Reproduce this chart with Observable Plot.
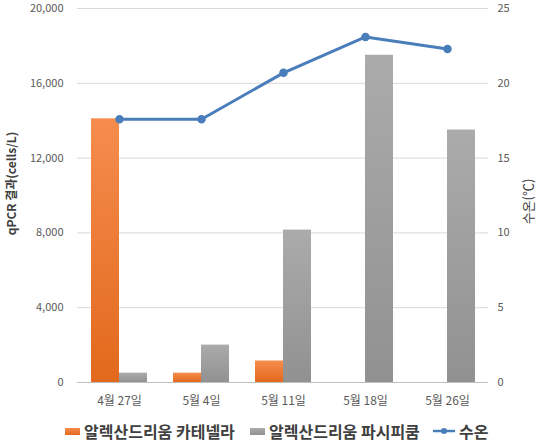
<!DOCTYPE html>
<html>
<head>
<meta charset="utf-8">
<script src="https://cdn.jsdelivr.net/npm/d3@7"></script>
<script src="https://cdn.jsdelivr.net/npm/@observablehq/plot@0.6"></script>
<style>
  html, body { margin: 0; padding: 0; background: #fff; }
  #wrap { position: relative; width: 551px; height: 445px; overflow: hidden; font-family: "Noto Sans CJK KR", "Noto Sans", sans-serif; }
  #legend { position: absolute; left: 0; top: 419px; width: 551px; height: 24px; }
  .item { position: absolute; top: 0; height: 24px; display: flex; align-items: center; font-weight: bold; font-size: 16px; color: #404040; white-space: nowrap; }
  .sw { display: inline-block; width: 15px; height: 7px; margin-right: 4px; }
</style>
</head>
<body>
<div id="wrap">
  <div id="chart"></div>
  <div id="legend"></div>
</div>
<script>
const dates = ["4월 27일", "5월 4일", "5월 11일", "5월 18일", "5월 26일"];
const catenella = [14100, 500, 1150, 0, 0];
const pacificum = [500, 2000, 8150, 17500, 13500];
const temperature = [17.6, 17.6, 20.7, 23.1, 22.3];
const leftTicks = [0, 4000, 8000, 12000, 16000, 20000];
const rightTicks = [0, 5, 10, 15, 20, 25];
const seriesNames = ["알렉산드리움 카테넬라", "알렉산드리움 파시피쿰", "수온"];
const leftTitle = "qPCR 결과(cells/L)";
const rightTitle = "수온(℃)";

const ratio = 20000 / 25;
const orangeRows = dates.map((d, i) => ({date: d, value: catenella[i]}));
const grayRows = dates.map((d, i) => ({date: d, value: pacificum[i]}));
const tempRows = dates.map((d, i) => ({date: d, temp: temperature[i]}));

const defs = () => {
  const g = d3.create("svg:defs");
  const o = g.append("linearGradient").attr("id", "gOrange").attr("x1", 0).attr("y1", 0).attr("x2", 0).attr("y2", 1);
  o.append("stop").attr("offset", "0%").attr("stop-color", "#F58C4E");
  o.append("stop").attr("offset", "100%").attr("stop-color", "#E2691C");
  const gr = g.append("linearGradient").attr("id", "gGray").attr("x1", 0).attr("y1", 0).attr("x2", 0).attr("y2", 1);
  gr.append("stop").attr("offset", "0%").attr("stop-color", "#ABABAB");
  gr.append("stop").attr("offset", "100%").attr("stop-color", "#919191");
  return g.node();
};

const font = "Noto Sans CJK KR, Noto Sans, sans-serif";

const chart = Plot.plot({
  width: 551,
  height: 418,
  marginLeft: 77,
  marginRight: 63,
  marginTop: 8,
  marginBottom: 36,
  style: {fontFamily: font, fontSize: "11px", color: "#595959", background: "#fff"},
  x: {domain: dates, padding: 0, label: null},
  y: {domain: [0, 20000], label: null},
  marks: [
    defs,
    Plot.ruleY(leftTicks.slice(1), {stroke: "#D9D9D9", strokeWidth: 1}),
    Plot.barY(orangeRows, {x: "date", y: "value", fill: "url(#gOrange)", insetLeft: 13, insetRight: 41}),
    Plot.barY(grayRows, {x: "date", y: "value", fill: "url(#gGray)", insetLeft: 41, insetRight: 13}),
    Plot.ruleY([0], {stroke: "#BFBFBF", strokeWidth: 1}),
    Plot.line(tempRows, {x: "date", y: d => d.temp * ratio, stroke: "#4A7EBB", strokeWidth: 3}),
    Plot.dot(tempRows, {x: "date", y: d => d.temp * ratio, r: 3.5, fill: "#4A7EBB", stroke: "#4A7EBB"}),
    Plot.axisY({ticks: leftTicks, tickFormat: d3.format(","), tickSize: 0, tickPadding: 14, label: null, fill: "#595959"}),
    Plot.axisY({anchor: "right", ticks: rightTicks.map(t => t * ratio), tickFormat: d => String(d / ratio), tickSize: 0, tickPadding: 9, label: null, fill: "#595959"}),
    Plot.axisX({tickSize: 0, tickPadding: 14, label: null, fill: "#595959", fontSize: 12}),
    Plot.text([leftTitle], {frameAnchor: "left", dx: -65, dy: -12, rotate: -90, textAnchor: "middle", fontSize: 12, fontWeight: "bold", fill: "#404040"}),
    Plot.text([rightTitle], {frameAnchor: "right", dx: 40, dy: 6, rotate: -90, textAnchor: "middle", fontSize: 13, fill: "#404040"})
  ]
});
document.getElementById("chart").appendChild(chart);

const legend = document.getElementById("legend");
const items = [
  {name: seriesNames[0], left: 65, kind: "bar", color: "linear-gradient(#F58C4E,#E2691C)"},
  {name: seriesNames[1], left: 250, kind: "bar", color: "linear-gradient(#ABABAB,#919191)"},
  {name: seriesNames[2], left: 432, kind: "line", color: "#4A7EBB"}
];
for (const it of items) {
  const div = document.createElement("div");
  div.className = "item";
  div.style.left = it.left + "px";
  if (it.kind === "bar") {
    const s = document.createElement("span");
    s.className = "sw";
    s.style.background = it.color;
    div.appendChild(s);
  } else {
    const s = document.createElementNS("http://www.w3.org/2000/svg", "svg");
    s.setAttribute("width", 24); s.setAttribute("height", 10);
    s.style.marginRight = "3px";
    s.innerHTML = `<line x1="1" y1="5" x2="23" y2="5" stroke="${it.color}" stroke-width="2.5"/><circle cx="12" cy="5" r="3" fill="${it.color}"/>`;
    div.appendChild(s);
  }
  const t = document.createElement("span");
  t.textContent = it.name;
  div.appendChild(t);
  legend.appendChild(div);
}
</script>
</body>
</html>
